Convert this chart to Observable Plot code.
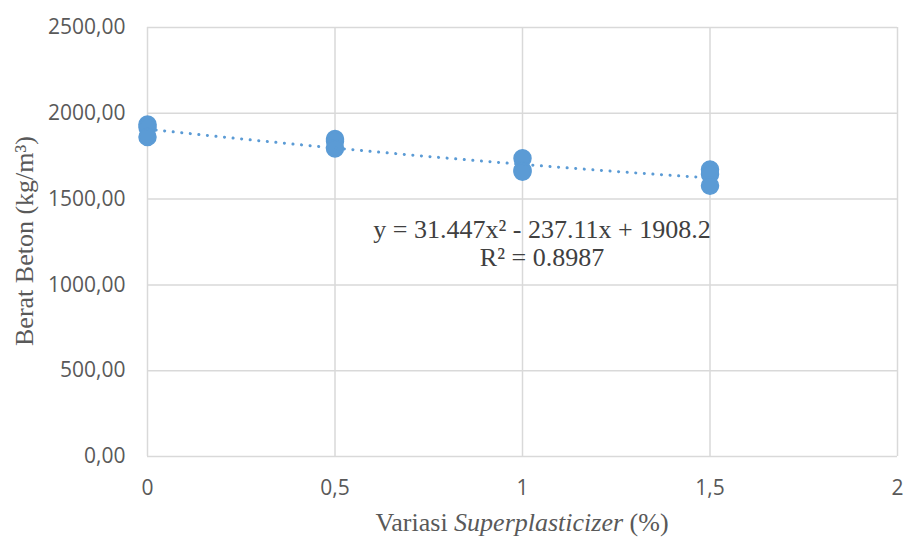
<!DOCTYPE html>
<html><head><meta charset="utf-8">
<script src="https://cdn.jsdelivr.net/npm/d3@7"></script>
<script src="https://cdn.jsdelivr.net/npm/@observablehq/plot@0.6"></script>
<style>body{margin:0;background:#fff}
.serif{font-family:"Liberation Serif","DejaVu Serif",serif !important;}</style>
</head><body><div id="chart"></div>
<script>
const xVals = [0, 0, 0, 0.5, 0.5, 0.5, 1, 1, 1, 1.5, 1.5, 1.5];
const yVals = [1935, 1918, 1862, 1850, 1838, 1795, 1738, 1668, 1660, 1672, 1645, 1578];
const coef = [1908.2, -237.11, 31.447];
const xTicks = [0, 0.5, 1, 1.5, 2];
const yTicks = [0, 500, 1000, 1500, 2000, 2500];
const trendX = [0, 0.1, 0.2, 0.3, 0.4, 0.5, 0.6, 0.7, 0.8, 0.9, 1, 1.1, 1.2, 1.3, 1.4, 1.5];

const pts = xVals.map((x, i) => ({x, y: yVals[i]}));
const trend = trendX.map(x => ({x, y: coef[0] + coef[1]*x + coef[2]*x*x}));
const blue = "#5b9bd5";
const fmtY = d => d3.format(".2f")(d).replace(".", ",");
const fmtX = d => String(d).replace(".", ",");

const plot = Plot.plot({
  width: 906, height: 540,
  marginLeft: 147, marginRight: 9, marginTop: 27, marginBottom: 84,
  style: {fontFamily: "'Open Sans', 'DejaVu Sans', sans-serif", fontSize: "18px", color: "#595959", background: "#fff"},
  x: {domain: [0, 2], ticks: xTicks, tickFormat: fmtX, label: null, tickSize: 0, tickPadding: 22},
  y: {domain: [0, 2500], ticks: yTicks, tickFormat: fmtY, label: null, tickSize: 0, tickPadding: 22},
  marks: [
    Plot.gridX(xTicks, {stroke: "#d9d9d9", strokeOpacity: 1, strokeWidth: 1.5}),
    Plot.gridY(yTicks, {stroke: "#d9d9d9", strokeOpacity: 1, strokeWidth: 1.5}),
    Plot.axisX({ticks: xTicks, tickFormat: fmtX, tickSize: 0, tickPadding: 24, fontSize: 21, fill: "#595959", label: null}),
    Plot.axisY({ticks: yTicks, tickFormat: fmtY, tickSize: 0, tickPadding: 22, fontSize: 21, fill: "#595959", label: null}),
    Plot.dot(pts, {x: "x", y: "y", r: 8.5, fill: blue, stroke: blue}),
    Plot.line(trend, {x: "x", y: "y", stroke: blue, strokeWidth: 3, strokeDasharray: "0.1 8.5", strokeLinecap: "round", curve: "monotone-x"})
  ]
});
document.getElementById("chart").appendChild(plot);

const svg = d3.select(plot);
// equation
svg.append("text").attr("class", "serif").attr("x", 542).attr("y", 238).attr("text-anchor", "middle")
  .style("font-size", "26px").attr("fill", "#404040")
  .text("y = 31.447x² - 237.11x + 1908.2");
svg.append("text").attr("class", "serif").attr("x", 542).attr("y", 266).attr("text-anchor", "middle")
  .style("font-size", "26px").attr("fill", "#404040")
  .text("R² = 0.8987");
// x title
const xt = svg.append("text").attr("class", "serif").attr("x", 522).attr("y", 531).attr("text-anchor", "middle")
  .style("font-size", "26px").attr("fill", "#595959");
xt.append("tspan").text("Variasi ");
xt.append("tspan").style("font-style", "italic").text("Superplasticizer");
xt.append("tspan").text(" (%)");
// y title
svg.append("text").attr("class", "serif").attr("transform", "translate(33,241) rotate(-90)").attr("text-anchor", "middle")
  .style("font-size", "26px").attr("fill", "#595959")
  .text("Berat Beton (kg/m³)");
</script></body></html>
